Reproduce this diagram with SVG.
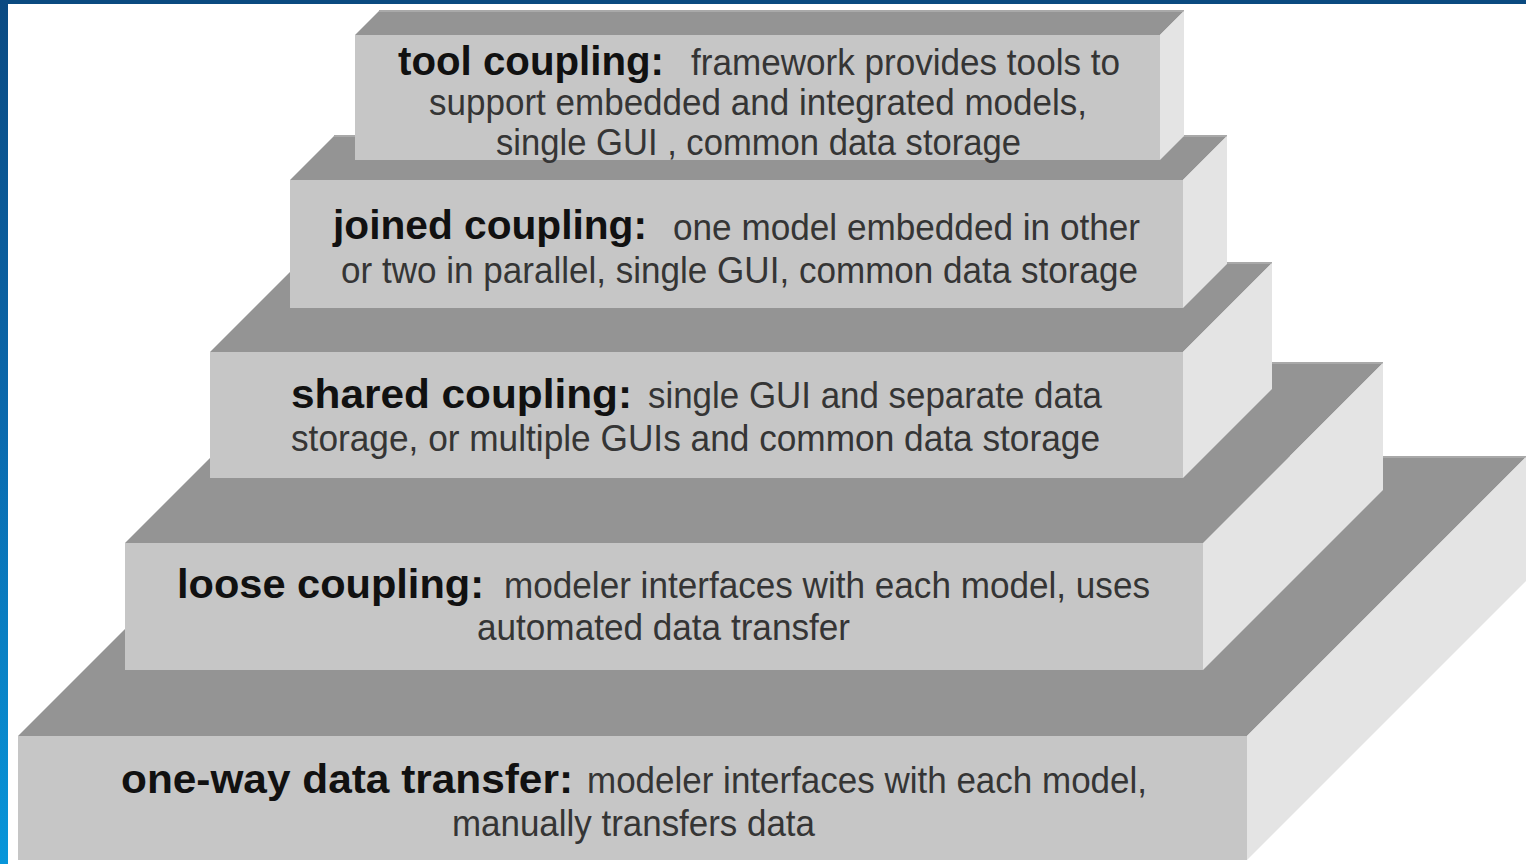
<svg xmlns="http://www.w3.org/2000/svg" width="1526" height="864" viewBox="0 0 1526 864">
  <defs>
    <linearGradient id="blueBar" x1="0" y1="0" x2="0" y2="1">
      <stop offset="0" stop-color="#0a4a82"/>
      <stop offset="0.5" stop-color="#0a6aae"/>
      <stop offset="1" stop-color="#0896da"/>
    </linearGradient>
  </defs>
  <style>
    .top { fill: #949494; }
    .front { fill: #c6c6c6; }
    .side { fill: #e4e4e4; }
    .edge { stroke: #a9a9a9; stroke-width: 2; fill: none; }
    .b { font-family: "Liberation Sans", Arial, sans-serif; font-weight: bold; font-size: 40px; fill: #111111; }
    .r { font-family: "Liberation Sans", Arial, sans-serif; font-size: 37px; fill: #353535; }
  </style>
  <rect x="0" y="0" width="1526" height="864" fill="#ffffff"/>

  <g id="tier-one-way">
    <polygon class="top" points="18,736 297,457 1526,457 1247,736"/>
    <line class="edge" x1="297" y1="457" x2="1526" y2="457"/>
    <polygon class="side" points="1247,736 1526,457 1526,581 1247,860"/>
    <rect class="front" x="18" y="736" width="1229" height="124"/>
    <text class="b" x="121" y="793" textLength="452" lengthAdjust="spacingAndGlyphs">one-way data transfer:</text>
    <text class="r" x="587" y="793" textLength="560" lengthAdjust="spacingAndGlyphs">modeler interfaces with each model,</text>
    <text class="r" x="452" y="836" textLength="363" lengthAdjust="spacingAndGlyphs">manually transfers data</text>
  </g>

  <g id="tier-loose">
    <polygon class="top" points="125,543 305,363 1383,363 1203,543"/>
    <line class="edge" x1="305" y1="363" x2="1383" y2="363"/>
    <polygon class="side" points="1203,543 1383,363 1383,490 1203,670"/>
    <rect class="front" x="125" y="543" width="1078" height="127"/>
    <text class="b" x="177" y="598" textLength="307" lengthAdjust="spacingAndGlyphs">loose coupling:</text>
    <text class="r" x="504" y="598" textLength="646" lengthAdjust="spacingAndGlyphs">modeler interfaces with each model, uses</text>
    <text class="r" x="477" y="640" textLength="373" lengthAdjust="spacingAndGlyphs">automated data transfer</text>
  </g>

  <g id="tier-shared">
    <polygon class="top" points="210,352 299,263 1272,263 1183,352"/>
    <line class="edge" x1="299" y1="263" x2="1272" y2="263"/>
    <polygon class="side" points="1183,352 1272,263 1272,389 1183,478"/>
    <rect class="front" x="210" y="352" width="973" height="126"/>
    <text class="b" x="291" y="408" textLength="341" lengthAdjust="spacingAndGlyphs">shared coupling:</text>
    <text class="r" x="648" y="408" textLength="454" lengthAdjust="spacingAndGlyphs">single GUI and separate data</text>
    <text class="r" x="291" y="451" textLength="809" lengthAdjust="spacingAndGlyphs">storage, or multiple GUIs and common data storage</text>
  </g>

  <g id="tier-joined">
    <polygon class="top" points="290,180 334,136 1227,136 1183,180"/>
    <line class="edge" x1="334" y1="136" x2="1227" y2="136"/>
    <polygon class="side" points="1183,180 1227,136 1227,264 1183,308"/>
    <rect class="front" x="290" y="180" width="893" height="128"/>
    <text class="b" x="333" y="239" textLength="314" lengthAdjust="spacingAndGlyphs">joined coupling:</text>
    <text class="r" x="673" y="240" textLength="467" lengthAdjust="spacingAndGlyphs">one model embedded in other</text>
    <text class="r" x="341" y="283" textLength="797" lengthAdjust="spacingAndGlyphs">or two in parallel, single GUI, common data storage</text>
  </g>

  <g id="tier-tool">
    <polygon class="top" points="355,35 379,11 1184,11 1160,35"/>
    <line class="edge" x1="379" y1="11" x2="1184" y2="11"/>
    <polygon class="side" points="1160,35 1184,11 1184,136 1160,160"/>
    <rect class="front" x="355" y="35" width="805" height="125"/>
    <text class="b" x="398" y="75" textLength="266" lengthAdjust="spacingAndGlyphs">tool coupling:</text>
    <text class="r" x="691" y="75" textLength="429" lengthAdjust="spacingAndGlyphs">framework provides tools to</text>
    <text class="r" x="429" y="115" textLength="658" lengthAdjust="spacingAndGlyphs">support embedded and integrated models,</text>
    <text class="r" x="496" y="155" textLength="525" lengthAdjust="spacingAndGlyphs">single GUI , common data storage</text>
  </g>

  <g id="connectors"/>

  <g id="frame">
    <rect x="0" y="0" width="1526" height="4" fill="#0a4a80"/>
    <rect x="0" y="0" width="8" height="864" fill="url(#blueBar)"/>
  </g>
</svg>
